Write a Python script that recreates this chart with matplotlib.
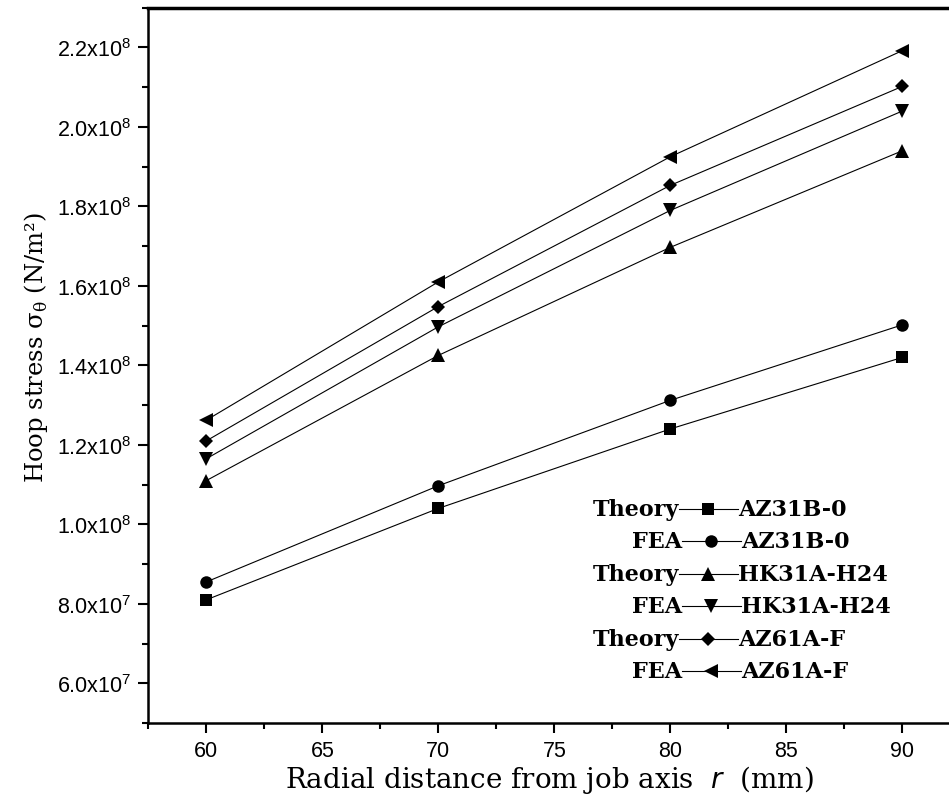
import matplotlib
matplotlib.use("Agg")
import matplotlib.pyplot as plt
from matplotlib.ticker import MultipleLocator, FuncFormatter

# radial distance (mm)
r = [60, 70, 80, 90]

# hoop stress (N/m^2)
theory_az31b = [8.10e7, 1.040e8, 1.240e8, 1.420e8]
fea_az31b = [8.55e7, 1.097e8, 1.312e8, 1.502e8]
theory_hk31a = [1.110e8, 1.425e8, 1.697e8, 1.940e8]
fea_hk31a = [1.165e8, 1.497e8, 1.790e8, 2.040e8]
theory_az61a = [1.210e8, 1.548e8, 1.853e8, 2.102e8]
fea_az61a = [1.262e8, 1.610e8, 1.925e8, 2.192e8]

series = [
    ("Theory", "AZ31B-0", theory_az31b, "s"),
    ("FEA", "AZ31B-0", fea_az31b, "o"),
    ("Theory", "HK31A-H24", theory_hk31a, "^"),
    ("FEA", "HK31A-H24", fea_hk31a, "v"),
    ("Theory", "AZ61A-F", theory_az61a, "D"),
    ("FEA", "AZ61A-F", fea_az61a, "<"),
]
msizes = {"s": 8, "o": 9, "^": 9.5, "v": 9.5, "D": 7.5, "<": 9.5}

plt.rcParams['mathtext.fontset'] = 'custom'
plt.rcParams['mathtext.rm'] = 'Liberation Sans'

fig = plt.figure(figsize=(9.49, 8.03), dpi=100)
ax = fig.add_axes([148.3 / 949, 79 / 803, 1.0 - 148.3 / 949 + 0.001, (724 - 8.7) / 803])

for kind, mat, vals, mk in series:
    ax.plot(r, vals, color="black", lw=0.8, marker=mk, ms=msizes[mk],
            markeredgewidth=0)

ax.set_xlim(57.5, 92.05)
ax.set_ylim(5e7, 2.3e8)
ax.xaxis.set_major_locator(MultipleLocator(5))
ax.xaxis.set_minor_locator(MultipleLocator(2.5))
ax.yaxis.set_major_locator(MultipleLocator(2e7))
ax.yaxis.set_minor_locator(MultipleLocator(1e7))


def sci(v, pos):
    if v <= 5.5e7:
        return ""
    e = 8 if v >= 1e8 - 1 else 7
    return "%.1fx10$^{\\mathregular{%d}}$" % (v / 10 ** e, e)


ax.yaxis.set_major_formatter(FuncFormatter(sci))
for lab in ax.get_xticklabels() + ax.get_yticklabels():
    lab.set_fontfamily("Liberation Sans")
ax.tick_params(which="major", direction="out", length=7, width=1.5,
               labelsize=15.5, pad=5)
ax.tick_params(which="minor", direction="out", length=4, width=1.5)

ax.spines["right"].set_visible(False)
ax.spines["top"].set_linewidth(2.5)
ax.spines["left"].set_linewidth(1.8)
ax.spines["bottom"].set_linewidth(1.8)

ax.set_xlabel("Radial distance from job axis  $\\it{r}$  (mm)", family="DejaVu Serif",
              fontsize=20, labelpad=2)
ax.set_ylabel("Hoop stress σ$_{\\mathregular{θ}}$ (N/m²)", family="DejaVu Serif",
              fontsize=17.5, labelpad=5)
ax.yaxis.label.set_y(0.526)

# legend drawn by hand: "Theory —■— AZ31B-0"
row_y = [510, 542, 575, 607, 640, 672]
for (kind, mat, vals, mk), py in zip(series, row_y):
    yy = 1 - (py - 8.7) / (724 - 8.7)
    x0 = (678 - 148.3) / (949 - 148.3) if kind == "Theory" else (681 - 148.3) / (949 - 148.3)
    seg = 59 / (949 - 148.3)
    ax.text(x0, yy, kind, transform=ax.transAxes, ha="right", va="center",
            family="DejaVu Serif", weight="bold", fontsize=16)
    ax.plot([x0, x0 + seg], [yy, yy], transform=ax.transAxes, color="black", lw=0.8)
    ax.plot([x0 + seg / 2], [yy], transform=ax.transAxes, color="black",
            marker=mk, ms=msizes[mk], markeredgewidth=0, clip_on=False)
    ax.text(x0 + seg, yy, mat, transform=ax.transAxes, ha="left", va="center",
            family="DejaVu Serif", weight="bold", fontsize=16)

fig.savefig("out.png", dpi=100)
